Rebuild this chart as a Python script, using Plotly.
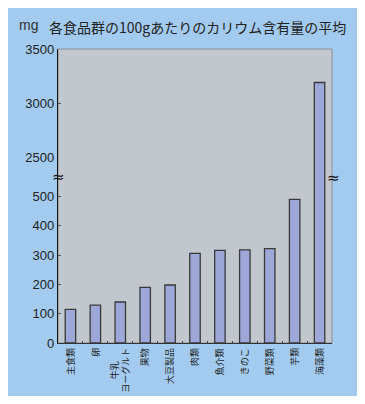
import plotly.graph_objects as go

# ---- data ----
categories = ["主食類", "卵", "牛乳・ヨーグルト", "果物", "大豆製品", "肉類",
              "魚介類", "きのこ", "野菜類", "芋類", "海藻類"]
tick_labels = ["主食類", "卵", "牛乳<br>ヨーグルト", "果物", "大豆製品", "肉類",
               "魚介類", "きのこ", "野菜類", "芋類", "海藻類"]
potassium = [115, 129, 140, 190, 198, 306, 316, 318, 322, 490, 3190]
lower_ticks = [0, 100, 200, 300, 400, 500]
upper_ticks = [2500, 3000, 3500]
title_text = "各食品群の100gあたりのカリウム含有量の平均"
unit_text = "mg"

# ---- geometry (pixels, page coordinates; the figure sits at an 8px body margin) ----
OFF = 8
W, H = 349, 388
L, R, T, B = 50, 25, 41, 53
PW, PH = W - L - R, H - T - B


def px(x):
    return (x - OFF - L) / PW


def py(y):
    return (OFF + H - B - y) / PH


split = py(157)              # boundary between lower and upper axis
lower_top = 635              # value at the top of the lower segment

BLUE = "#A3CBEF"
PLOT = "#C2C7CE"
BAR = "#9DA8D9"
EDGE = "#3a3a3a"
CJK = "Noto Sans CJK JP"

fig = go.Figure()
bar_style = dict(marker=dict(color=BAR, line=dict(color=EDGE, width=1.3)),
                 showlegend=False, hoverinfo="skip")
fig.add_trace(go.Bar(x=categories, y=potassium, xaxis="x", yaxis="y", **bar_style))
fig.add_trace(go.Bar(x=categories, y=potassium, xaxis="x", yaxis="y2", **bar_style))

shapes = [
    dict(type="rect", xref="paper", yref="paper", layer="below",
         x0=0, x1=1, y0=0, y1=1,
         line=dict(color="#8a8f96", width=1), fillcolor=PLOT),
]

annotations = [
    dict(text=unit_text, xref="paper", yref="paper", x=px(17), y=py(25),
         xanchor="left", yanchor="middle", showarrow=False,
         font=dict(family="Liberation Sans", size=14, color="#333")),
    dict(text=title_text, xref="paper", yref="paper", x=px(47), y=py(27.5),
         xanchor="left", yanchor="middle", showarrow=False,
         font=dict(family=CJK, size=14, color="#222")),
    dict(text="≈", xref="paper", yref="paper", x=px(58.5), y=py(177),
         xanchor="center", yanchor="middle", showarrow=False,
         font=dict(family="DejaVu Sans", size=15, color="#111")),
    dict(text="≈", xref="paper", yref="paper", x=px(333), y=py(178),
         xanchor="center", yanchor="middle", showarrow=False,
         font=dict(family="DejaVu Sans", size=15, color="#111")),
]
for cat, lab in zip(categories, tick_labels):
    annotations.append(dict(text=lab, x=cat, xref="x", yref="paper", y=py(346),
                            xanchor="center", yanchor="top", textangle=-90,
                            showarrow=False, align="center",
                            font=dict(family=CJK, size=9, color="#222")))

yfont = dict(family="Liberation Sans", size=13, color="#222")
fig.update_layout(
    width=W, height=H,
    margin=dict(l=L, r=R, t=T, b=B, pad=0),
    paper_bgcolor=BLUE, plot_bgcolor="rgba(0,0,0,0)",
    bargap=0.58,
    shapes=shapes, annotations=annotations,
    xaxis=dict(type="category", categoryorder="array", categoryarray=categories,
               range=[-0.5, len(categories) - 0.5], anchor="y",
               showline=True, linecolor="#333", linewidth=1.2,
               ticks="inside", tickson="boundaries", ticklen=2, tickcolor="#444",
               showticklabels=False, showgrid=False, zeroline=False),
    yaxis=dict(domain=[0, split], range=[0, lower_top], anchor="x",
               tickmode="array", tickvals=lower_ticks,
               showline=True, linecolor="#111", linewidth=1.4,
               ticks="inside", ticklen=3, tickcolor="#555",
               tickfont=yfont, showgrid=False, zeroline=False),
    yaxis2=dict(domain=[split, 1], range=[upper_ticks[0], upper_ticks[-1]], anchor="x",
                tickmode="array", tickvals=upper_ticks,
                showline=True, linecolor="#111", linewidth=1.4,
                ticks="inside", ticklen=3, tickcolor="#555",
                tickfont=yfont, showgrid=False, zeroline=False),
)

fig.write_html("out.html")
